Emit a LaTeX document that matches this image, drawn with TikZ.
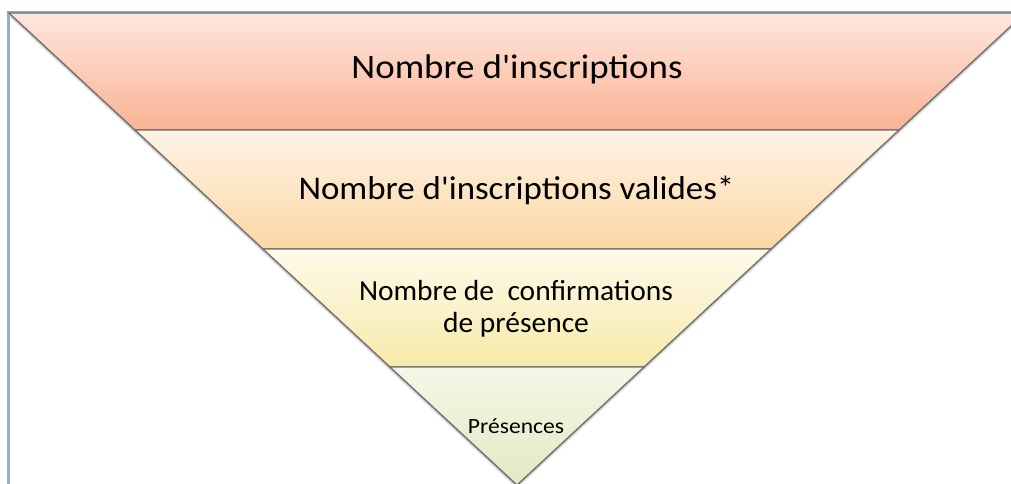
\documentclass[tikz,border=0pt]{standalone}
\usepackage{fontspec}
\setmainfont{Carlito}
\definecolor{edgegray}{HTML}{6E6E6E}
\definecolor{frameblue}{HTML}{8DB0DA}
\definecolor{aTop}{HTML}{FEE6DD}
\definecolor{aBot}{HTML}{FAB394}
\definecolor{bTop}{HTML}{FEF3E6}
\definecolor{bBot}{HTML}{FCD7A3}
\definecolor{cTop}{HTML}{FEFAEA}
\definecolor{cBot}{HTML}{F6EAA9}
\definecolor{dTop}{HTML}{F5F7E6}
\definecolor{dBot}{HTML}{E3E9C3}
\begin{document}
\begin{tikzpicture}[x=0.75pt,y=-0.75pt,
  band/.style={draw=edgegray, line width=0.9pt, line join=miter},
  lbl/.style={inner sep=0pt, anchor=base, text=black}]
\useasboundingbox (0,0) rectangle (1011,483);
\begin{scope}
\clip (0,0) rectangle (1011,483);
% frame
\draw[frameblue, line width=1.6pt] (8.5,600) -- (8.5,12.5) -- (1100,12.5);
% soft shadow below the funnel
\foreach \d/\o in {1/0.16,2/0.12,3/0.08,4/0.05}{
  \fill[black,opacity=\o] (9,13+\d) -- (1025,13+\d) -- (517,485+\d) -- cycle;
}
% bands
\shadedraw[band, top color=aTop, bottom color=aBot] (9,13) -- (1025,13) -- (899,130) -- (135,130) -- cycle;
\shadedraw[band, top color=bTop, bottom color=bBot] (135,130) -- (899,130) -- (771,249) -- (263,249) -- cycle;
\shadedraw[band, top color=cTop, bottom color=cBot] (263,249) -- (771,249) -- (644,367) -- (390,367) -- cycle;
\shadedraw[band, top color=dTop, bottom color=dBot] (390,367) -- (644,367) -- (517,485) -- cycle;
\end{scope}
% labels
\node[lbl, font=\fontsize{25.7pt}{30pt}\selectfont] (n1) at (517,78.5)
  {\scalebox{1.077}[1]{Nombre d\textquotesingle inscriptions}};
\node[lbl, font=\fontsize{24.8pt}{29pt}\selectfont] (n2) at (516.5,199)
  {\scalebox{1.056}[1]{Nombre d\textquotesingle inscriptions valides*}};
\node[lbl, font=\fontsize{21.8pt}{24pt}\selectfont] (n3) at (516,300)
  {\scalebox{1.015}[1]{\setlength{\tabcolsep}{0pt}\begin{tabular}[t]{c}Nombre de\ \ confirmations\\de présence\end{tabular}}};
\node[lbl, font=\fontsize{16.3pt}{19pt}\selectfont] (n4) at (516,433)
  {\scalebox{1.085}[1]{Présences}};
\end{tikzpicture}
\end{document}
